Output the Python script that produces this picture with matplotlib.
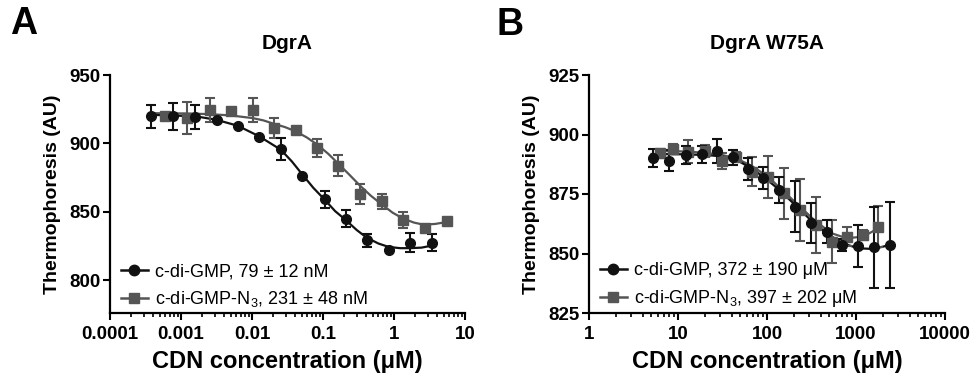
import numpy as np
import matplotlib
matplotlib.use("Agg")
import matplotlib.pyplot as plt
from matplotlib.lines import Line2D
from matplotlib.ticker import LogLocator, NullFormatter

plt.rcParams['font.family'] = ['Liberation Sans', 'DejaVu Sans']
plt.rcParams['mathtext.fontset'] = 'custom'
plt.rcParams['mathtext.rm'] = 'Liberation Sans'
plt.rcParams['mathtext.it'] = 'Liberation Sans:italic'

BLACK = '#111111'
GREY = '#555555'

# ---- panel A: DgrA (concentration in uM) ----
a_gmp_x = [0.00038, 0.00078, 0.00158, 0.00318, 0.0063, 0.0127, 0.0254,
           0.0512, 0.105, 0.209, 0.41, 0.84, 1.68, 3.39]
a_gmp_y = [919.7, 919.7, 919.2, 917.3, 912.9, 904.7, 895.9,
           876.0, 859.0, 845.0, 829.2, 822.0, 827.5, 827.5]
a_gmp_err = [8.7, 10.0, 8.9, 0, 0, 0, 8.1, 0, 6.3, 6.0, 4.8, 0, 7.0, 6.0]

a_n3_x = [0.0006, 0.00123, 0.0026, 0.0051, 0.0103, 0.0205, 0.041,
          0.083, 0.164, 0.33, 0.67, 1.35, 2.73, 5.5]
a_n3_y = [919.7, 918.5, 924.5, 924.0, 924.5, 911.6, 909.5,
          896.7, 883.8, 862.7, 857.8, 843.7, 838.4, 843.2]
a_n3_err = [0, 11.5, 8.5, 0, 8.5, 7.3, 0, 6.7, 8.0, 7.3, 5.5, 5.8, 0, 0]

a_gmp_fit_x = [0.00036, 0.00078, 0.00166, 0.00318, 0.0063, 0.0127, 0.0254,
               0.0363, 0.0513, 0.0731, 0.105, 0.148, 0.209, 0.298, 0.412,
               0.603, 0.841, 1.22, 1.68, 2.45, 3.58]
a_gmp_fit_y = [920.9, 920.4, 919.7, 917.2, 912.9, 905.1, 895.4,
               886.9, 877.2, 867.5, 859.0, 850.5, 844.0, 836.7, 831.1,
               826.8, 824.3, 823.4, 823.4, 823.8, 825.5]

a_n3_fit_x = [0.00036, 0.00107, 0.00256, 0.00506, 0.0102, 0.0145, 0.0204,
              0.0292, 0.0412, 0.0589, 0.0832, 0.119, 0.164, 0.234, 0.331,
              0.468, 0.671, 0.959, 1.35, 1.91, 2.59, 3.78, 5.52]
a_n3_fit_y = [922.1, 921.9, 921.4, 920.4, 918.5, 916.8, 914.3,
              911.9, 908.8, 904.4, 899.1, 892.3, 885.2, 877.2, 869.2,
              861.9, 855.4, 849.3, 845.0, 842.1, 840.6, 841.1, 842.5]

# ---- panel B: DgrA W75A ----
b_gmp_x = [5.28, 7.9, 12.3, 18.5, 27.2, 41.1, 61.7, 91, 137.6, 206,
           309, 468, 702, 1062, 1592, 2410]
b_gmp_y = [890.0, 889.0, 891.4, 891.7, 893.1, 890.4, 885.4, 881.6, 876.7,
           869.7, 863.0, 859.2, 853.6, 853.1, 852.6, 853.6]
b_gmp_err = [3.8, 4.5, 3.9, 3.5, 4.9, 3.2, 4.7, 4.7, 5.3,
             10.7, 8.4, 4.8, 2.7, 8.8, 16.9, 18.2]

b_n3_x = [6.28, 8.87, 13.1, 20.1, 31, 44.9, 67.3, 101.7, 155, 235,
          355, 533, 785, 1208, 1783]
b_n3_y = [892.1, 893.8, 892.8, 893.1, 889.0, 890.7, 884.4, 882.0, 875.3,
          868.3, 862.0, 855.0, 857.1, 857.8, 861.3]
b_n3_err = [2.0, 2.0, 4.9, 2.6, 3.4, 2.0, 6.0, 8.8, 10.6,
            13.1, 11.9, 9.1, 4.0, 2.0, 8.5]

b_gmp_fit_x = [5.06, 10.5, 21, 32.3, 45.7, 61.7, 91, 138, 207, 309,
               468, 702, 1062, 1567, 2410]
b_gmp_fit_y = [891.8, 891.7, 891.4, 890.7, 889.3, 886.5, 882.3, 876.7,
               870.4, 864.1, 858.5, 854.3, 852.2, 851.9, 853.6]

b_n3_fit_x = [5.75, 13.5, 28.8, 44.7, 67.6, 102, 155, 234, 355, 533,
              785, 1208, 1782]
b_n3_fit_y = [893.2, 892.8, 891.7, 890.0, 886.8, 882.3, 876.0, 869.7,
              863.4, 858.5, 856.4, 857.1, 860.6]

labels_a = ['c-di-GMP, 79 ± 12 nM', 'c-di-GMP-N$_3$, 231 ± 48 nM']
labels_b = ['c-di-GMP, 372 ± 190 μM', 'c-di-GMP-N$_3$, 397 ± 202 μM']


def draw_series(ax, x, y, err, fx, fy, color, marker, ms):
    ax.plot(fx, fy, color=color, lw=1.6, zorder=2)
    ax.errorbar(x, y, yerr=err, fmt=marker, color=color, ms=ms,
                elinewidth=1.5, capsize=3.5, capthick=1.5, zorder=3)


def style_axes(ax, title, yticks, ylim, xlim, xticks, xticklabels, labels):
    ax.set_xscale('log')
    ax.set_xlim(*xlim)
    ax.set_ylim(*ylim)
    ax.set_yticks(yticks)
    ax.set_xticks(xticks)
    ax.set_xticklabels(xticklabels)
    ax.xaxis.set_minor_locator(LogLocator(base=10, subs=np.arange(2, 10)))
    ax.xaxis.set_minor_formatter(NullFormatter())
    for s in ['top', 'right']:
        ax.spines[s].set_visible(False)
    for s in ['left', 'bottom']:
        ax.spines[s].set_linewidth(1.6)
    ax.tick_params(which='major', length=5, width=1.5, labelsize=13.5)
    ax.tick_params(axis='x', which='major', pad=4.5)
    ax.tick_params(axis='y', which='major', pad=2)
    ax.tick_params(which='minor', length=3, width=1.2)
    for t in ax.get_xticklabels() + ax.get_yticklabels():
        t.set_fontweight('bold')
    ax.set_title(title, fontsize=15, fontweight='bold', pad=19)
    ax.set_ylabel('Thermophoresis (AU)', fontsize=14, fontweight='bold',
                  labelpad=6)
    ax.set_xlabel('CDN concentration (μM)', fontsize=17, fontweight='bold',
                  labelpad=5)
    handles = [Line2D([], [], color=BLACK, marker='o', ms=7.5, lw=1.8),
               Line2D([], [], color=GREY, marker='s', ms=7.5, lw=1.8)]
    ax.legend(handles, labels, loc='lower left', bbox_to_anchor=(0.02, 0.0),
              frameon=False, fontsize=13, handlelength=1.5,
              handletextpad=0.4, labelspacing=0.5, borderaxespad=0.0,
              borderpad=0.2)


fig = plt.figure(figsize=(9.8, 3.89), dpi=100)
axA = fig.add_axes([110 / 980, 76 / 389, 355 / 980, 238 / 389])
axB = fig.add_axes([589 / 980, 76 / 389, 356 / 980, 238 / 389])

draw_series(axA, a_n3_x, a_n3_y, a_n3_err, a_n3_fit_x, a_n3_fit_y, GREY, 's', 7.5)
draw_series(axA, a_gmp_x, a_gmp_y, a_gmp_err, a_gmp_fit_x, a_gmp_fit_y, BLACK, 'o', 7)
style_axes(axA, 'DgrA', [800, 850, 900, 950], (776, 950), (1e-4, 10),
           [1e-4, 1e-3, 1e-2, 1e-1, 1, 10],
           ['0.0001', '0.001', '0.01', '0.1', '1', '10'], labels_a)

draw_series(axB, b_n3_x, b_n3_y, b_n3_err, b_n3_fit_x, b_n3_fit_y, GREY, 's', 7.5)
draw_series(axB, b_gmp_x, b_gmp_y, b_gmp_err, b_gmp_fit_x, b_gmp_fit_y, BLACK, 'o', 7)
style_axes(axB, 'DgrA W75A', [825, 850, 875, 900, 925], (825, 925), (1, 10000),
           [1, 10, 100, 1000, 10000],
           ['1', '10', '100', '1000', '10000'], labels_b)

fig.text(24 / 980, 1 - 24 / 389, 'A', fontsize=27, fontweight='bold',
         ha='center', va='center')
fig.text(510 / 980, 1 - 25 / 389, 'B', fontsize=27, fontweight='bold',
         ha='center', va='center')

fig.savefig('out.png', dpi=100)
